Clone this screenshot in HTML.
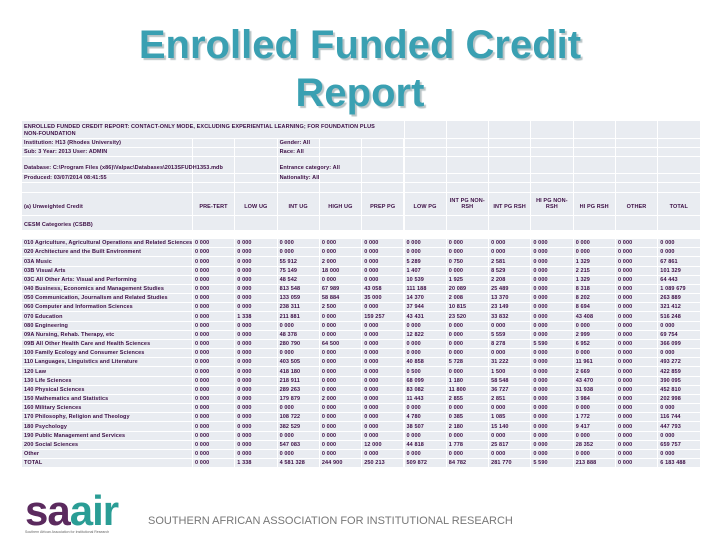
<!DOCTYPE html>
<html><head><meta charset="utf-8">
<style>
html,body{margin:0;padding:0;background:#fff;}
#page{position:relative;width:720px;height:540px;overflow:hidden;font-family:"Liberation Sans",sans-serif;}
.title{position:absolute;left:0;width:720px;text-align:center;font-weight:bold;font-size:40px;color:#3aa0b2;text-shadow:2px 2px 1px #b9c4c6;line-height:1;}
.row{position:absolute;left:22px;width:690px;}
.cell{position:absolute;top:0;bottom:0;background:#e9ecf1;}
.t{position:absolute;font-size:5.5px;color:#3d0f45;white-space:nowrap;line-height:6px;letter-spacing:0.1px;font-weight:bold;}
</style></head>
<body>
<div id="page">
  <div class="title" style="top:25px">Enrolled Funded Credit</div>
  <div class="title" style="top:73px">Report</div>
  <div id="table"></div>
  <div style="position:absolute;left:25px;top:490px;font-weight:bold;font-size:42px;line-height:42px;letter-spacing:-1px"><span style="color:#5b2a5e">sa</span><span style="color:#2a9d95">air</span></div>
  <div style="position:absolute;left:25px;top:530px;font-size:3.5px;color:#666;white-space:nowrap">Southern African Association for Institutional Research</div>
  <div style="position:absolute;left:148px;top:515px;font-size:11px;color:#777;white-space:nowrap">SOUTHERN AFRICAN ASSOCIATION FOR INSTITUTIONAL RESEARCH</div>
</div>
<script>
const columns = ["PRE-TERT","LOW UG","INT UG","HIGH UG","PREP PG","LOW PG","INT PG NON-RSH","INT PG RSH","HI PG NON-RSH","HI PG RSH","OTHER","TOTAL"];
const categories = ["010 Agriculture, Agricultural Operations and Related Sciences","020 Architecture and the Built Environment","03A Music","03B Visual Arts","03C All Other Arts: Visual and Performing","040  Business, Economics and Management Studies","050  Communication, Journalism and Related Studies","060 Computer and Information Sciences","070  Education","080 Engineering","09A Nursing, Rehab. Therapy, etc","09B All Other Health Care and Health Sciences","100 Family Ecology and Consumer Sciences","110 Languages, Linguistics and Literature","120 Law","130 Life Sciences","140 Physical Sciences","150 Mathematics and Statistics","160 Military Sciences","170 Philosophy, Religion and Theology","180 Psychology","190 Public Management and Services","200 Social Sciences","Other","TOTAL"];
const z = [0,0,0,0,0,0,0,0,0,0,0,0];
const r010 = z, r020 = z;
const r03A = [0,0,55.912,2.000,0,5.289,0.750,2.581,0,1.329,0,67.861];
const r03B = [0,0,75.149,18.000,0,1.407,0,8.529,0,2.215,0,101.329];
const r03C = [0,0,48.542,0,0,10.539,1.925,2.208,0,1.329,0,64.443];
const r040 = [0,0,813.548,67.989,43.058,111.188,20.089,25.489,0,8.318,0,1089.679];
const r050 = [0,0,133.059,58.884,35.000,14.370,2.008,13.370,0,8.202,0,263.889];
const r060 = [0,0,238.311,2.500,0,37.944,10.815,23.149,0,8.694,0,321.412];
const r070 = [0,1.338,211.881,0,159.257,43.431,23.520,33.832,0,43.408,0,516.248];
const r080 = z;
const r09A = [0,0,48.378,0,0,12.822,0,5.559,0,2.999,0,69.754];
const r09B = [0,0,280.790,64.500,0,0,0,8.278,5.590,6.952,0,366.099];
const r100 = z;
const r110 = [0,0,403.505,0,0,40.858,5.728,31.222,0,11.961,0,493.272];
const r120 = [0,0,418.180,0,0,0.500,0,1.500,0,2.669,0,422.859];
const r130 = [0,0,218.911,0,0,68.099,1.180,58.548,0,43.470,0,390.095];
const r140 = [0,0,289.263,0,0,83.082,11.800,36.727,0,31.938,0,452.810];
const r150 = [0,0,179.879,2.000,0,11.443,2.855,2.851,0,3.984,0,202.998];
const r160 = z;
const r170 = [0,0,108.722,0,0,4.780,0.385,1.085,0,1.772,0,116.744];
const r180 = [0,0,382.529,0,0,38.507,2.180,15.140,0,9.417,0,447.793];
const r190 = z;
const r200 = [0,0,547.083,0,12.000,44.818,1.778,25.817,0,28.352,0,659.757];
const rOther = z;
const rTotal = [0,1.338,4581.328,244.900,250.213,509.872,84.782,281.770,5.590,213.888,0,6183.488];
const values = [r010,r020,r03A,r03B,r03C,r040,r050,r060,r070,r080,r09A,r09B,r100,r110,r120,r130,r140,r150,r160,r170,r180,r190,r200,rOther,rTotal];

const page = document.getElementById('page');
const colX = i => 171 + i * 42.3;
function fmt(v){
  const s = v.toFixed(3).split('.');
  const intp = s[0].replace(/\B(?=(\d{3})+(?!\d))/g,' ');
  return intp + ' ' + s[1];
}
function makeRow(top, h, name, spanTo){
  const r = document.createElement('div');
  r.className = 'row';
  r.style.top = top + 'px'; r.style.height = h + 'px';
  
  
  const c0 = document.createElement('div');
  c0.className = 'cell'; c0.style.left = '0px';
  let start = 0;
  if (spanTo) { c0.style.width = (colX(spanTo) - 1) + 'px'; start = spanTo; }
  else c0.style.width = '170px';
  r.appendChild(c0);
  for (let i = start; i < 12; i++) {
    const c = document.createElement('div');
    c.className = 'cell';
    c.style.left = colX(i) + 'px';
    c.style.width = '41.3px';
    r.appendChild(c);
  }
  page.appendChild(r);
  return r;
}
function addText(row, x, y, txt, name, center, w){
  const t = document.createElement('div');
  t.className = 't';
  t.style.left = x + 'px'; t.style.top = y + 'px';
  if (center) { t.style.width = w + 'px'; t.style.textAlign = 'center'; t.style.whiteSpace = 'normal'; }
  t.textContent = txt;
  
  
  row.appendChild(t);
}
let r;
r = makeRow(121, 17, 'report-title-row', 5);
addText(r, 2, 3, 'ENROLLED FUNDED CREDIT REPORT: CONTACT-ONLY MODE, EXCLUDING EXPERIENTIAL LEARNING; FOR FOUNDATION PLUS', 'report-heading');
addText(r, 2, 10, 'NON-FOUNDATION', 'report-heading-2');
r = makeRow(139, 8, 'institution-row');
addText(r, 2, 1, 'Institution: H13 (Rhodes University)', 'institution-label');
addText(r, colX(2)+2, 1, 'Gender: All', 'gender-filter');
r = makeRow(148, 8, 'sub-row');
addText(r, 2, 1, 'Sub: 3     Year: 2013     User: ADMIN', 'sub-year-user');
addText(r, colX(2)+2, 1, 'Race: All', 'race-filter');
r = makeRow(157, 16, 'database-row');
addText(r, 2, 8, 'Database: C:\\Program Files (x86)\\Valpac\\Databases\\2013SFUDH1353.mdb', 'database-path');
addText(r, colX(2)+2, 8, 'Entrance category: All', 'entrance-filter');
r = makeRow(174, 8, 'produced-row');
addText(r, 2, 1, 'Produced: 03/07/2014 08:41:55', 'produced-date');
addText(r, colX(2)+2, 1, 'Nationality: All', 'nationality-filter');
makeRow(183, 9, 'spacer-row');
r = makeRow(193, 22, 'column-header-row');
addText(r, 2, 11, '(a) Unweighted Credit', 'unweighted-credit-label');
for (let i = 0; i < columns.length; i++) {
  const two = columns[i].length > 12;
  addText(r, colX(i), two ? 5 : 11, columns[i], 'column-header', true, 41);
}
r = makeRow(216, 14, 'cesm-row');
addText(r, 2, 6, 'CESM Categories (CSBB)', 'cesm-categories-label');
const pitch = 9.17;
for (let k = 0; k < categories.length; k++) {
  r = makeRow(239 + k * pitch, 8.2, 'data-row');
  addText(r, 2, 1.2, categories[k], 'category-label');
  const vals = values[k];
  for (let i = 0; i < vals.length; i++) {
    addText(r, colX(i) + 2, 1.2, fmt(vals[i]), 'value-cell');
  }
}
</script>
</body></html>
